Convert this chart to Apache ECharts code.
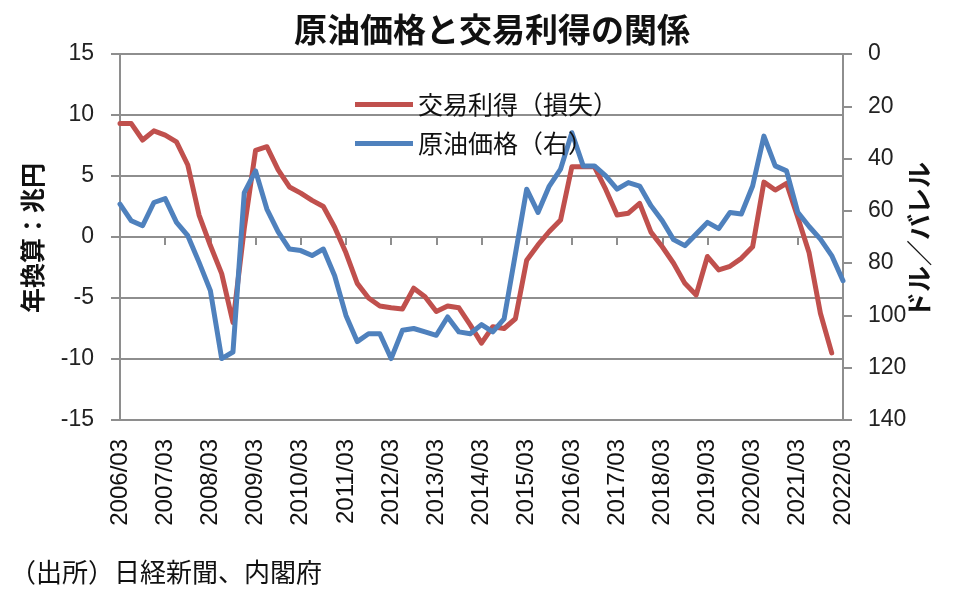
<!DOCTYPE html>
<html><head><meta charset="utf-8">
<script src="https://cdn.jsdelivr.net/npm/echarts@6/dist/echarts.min.js"></script>
<style>html,body{margin:0;padding:0;background:#fff}#c{width:958px;height:598px}</style>
</head><body><div id="c"></div>
<script>
const quarters = [
'2006/03','2006/06','2006/09','2006/12','2007/03','2007/06','2007/09','2007/12',
'2008/03','2008/06','2008/09','2008/12','2009/03','2009/06','2009/09','2009/12',
'2010/03','2010/06','2010/09','2010/12','2011/03','2011/06','2011/09','2011/12',
'2012/03','2012/06','2012/09','2012/12','2013/03','2013/06','2013/09','2013/12',
'2014/03','2014/06','2014/09','2014/12','2015/03','2015/06','2015/09','2015/12',
'2016/03','2016/06','2016/09','2016/12','2017/03','2017/06','2017/09','2017/12',
'2018/03','2018/06','2018/09','2018/12','2019/03','2019/06','2019/09','2019/12',
'2020/03','2020/06','2020/09','2020/12','2021/03','2021/06','2021/09','2021/12',
'2022/03'];
// 交易利得（損失） 年換算・兆円
const tradeGain = [
9.3, 9.3, 7.95, 8.7, 8.35, 7.8, 5.9, 1.8,
-0.7, -3.0, -7.0, 0.7, 7.1, 7.4, 5.5, 4.1,
3.6, 3.0, 2.5, 0.8, -1.3, -3.8, -5.0, -5.65,
-5.8, -5.9, -4.2, -4.9, -6.1, -5.65, -5.8, -7.2,
-8.7, -7.35, -7.5, -6.7, -1.9, -0.65, 0.45, 1.4,
5.75, 5.75, 5.75, 3.9, 1.8, 1.95, 2.76, 0.4,
-0.8, -2.15, -3.8, -4.75, -1.6, -2.7, -2.4, -1.75,
-0.8, 4.5, 3.85, 4.4, 1.6, -1.3, -6.25, -9.5];
// 原油価格（右） ドル／バレル
const oilPrice = [
57.4, 63.8, 65.7, 56.8, 55.3, 64.4, 69.5, 79.7,
90.5, 116.5, 114, 53, 44.7, 59.3, 68, 74.6,
75.2, 77.1, 74.6, 84.8, 100, 110, 107, 107,
116.5, 105.7, 105, 106.3, 107.6, 100.6, 106.3, 107,
103.5, 106.3, 101.3, 76.5, 51.7, 60.6, 50.5, 44,
30.1, 42.8, 42.8, 46.6, 51.7, 49.2, 50.5, 58,
63.8, 71, 73.3, 68.9, 64.4, 66.8, 60.6, 61.2,
50.5, 31.4, 42.8, 44.7, 60.6, 66, 70.8, 77.1,
86.7];
const seriesNames = ['交易利得（損失）', '原油価格（右）'];
const leftTicks = {min: -15, max: 15, interval: 5};
const rightTicks = {min: 0, max: 140, interval: 20};
const titleText = '原油価格と交易利得の関係';
const leftName = '年換算：兆円';
const rightName = 'ドル／バレル';
const sourceText = '（出所）日経新聞、内閣府';

const JP = '"Noto Sans CJK JP","Noto Sans",sans-serif';
const NUM = '"Liberation Sans","Noto Sans",sans-serif';
const GRAY = '#8e8e8e';

const chart = echarts.init(document.getElementById('c'), null, {renderer: 'canvas'});
chart.setOption({
  animation: false,
  backgroundColor: '#fff',
  grid: {left: 120, right: 115, top: 54, height: 366, containLabel: false},
  legend: {
    orient: 'vertical', left: 350, top: 87, itemWidth: 58, itemHeight: 5, itemGap: 14,
    icon: 'rect',
    textStyle: {fontFamily: JP, fontSize: 25, color: '#111'},
    data: seriesNames
  },
  xAxis: [{
    type: 'category', data: quarters, boundaryGap: false,
    axisLine: {onZero: true, onZeroAxisIndex: 0, lineStyle: {color: GRAY, width: 2}},
    axisTick: {show: true, interval: 3, length: 8, lineStyle: {color: GRAY, width: 2}},
    axisLabel: {show: false},
    splitLine: {show: false}
  }, {
    type: 'category', data: quarters, boundaryGap: false, position: 'bottom',
    axisLine: {show: false, onZero: false},
    axisTick: {show: false},
    axisLabel: {show: true, interval: 3, rotate: 90, margin: 19, fontFamily: NUM, fontSize: 24, color: '#111'},
    splitLine: {show: false}
  }],
  yAxis: [{
    type: 'value', position: 'left', min: leftTicks.min, max: leftTicks.max, interval: leftTicks.interval,
    axisLine: {show: true, lineStyle: {color: GRAY, width: 2}},
    axisTick: {show: true, length: 9, lineStyle: {color: GRAY, width: 2}},
    axisLabel: {margin: 26, fontFamily: NUM, fontSize: 23, color: '#222'},
    splitLine: {show: true, lineStyle: {color: GRAY, width: 2}}
  }, {
    type: 'value', position: 'right', inverse: true,
    min: rightTicks.min, max: rightTicks.max, interval: rightTicks.interval,
    axisLine: {show: true, lineStyle: {color: GRAY, width: 2}},
    axisTick: {show: true, length: 9, lineStyle: {color: GRAY, width: 2}},
    axisLabel: {margin: 25, fontFamily: NUM, fontSize: 23, color: '#222'},
    splitLine: {show: false}
  }],
  series: [{
    name: seriesNames[0], type: 'line', data: tradeGain, xAxisIndex: 0, yAxisIndex: 0,
    symbol: 'none', color: '#C0504D',
    lineStyle: {width: 5, color: '#C0504D', cap: 'round', join: 'round'}
  }, {
    name: seriesNames[1], type: 'line', data: oilPrice, xAxisIndex: 0, yAxisIndex: 1,
    symbol: 'none', color: '#4F81BD',
    lineStyle: {width: 5, color: '#4F81BD', cap: 'round', join: 'round'}
  }],
  graphic: [
    {type: 'text', x: 492, y: 29, style: {text: titleText, font: 'bold 33px ' + JP, fill: '#111', align: 'center', verticalAlign: 'middle'}},
    {type: 'text', x: 32, y: 238, rotation: Math.PI / 2, style: {text: leftName, font: 'bold 25px ' + JP, fill: '#111', align: 'center', verticalAlign: 'middle'}},
    {type: 'text', x: 919, y: 240, rotation: Math.PI / 2, style: {text: rightName, font: 'bold 26px ' + JP, fill: '#111', align: 'center', verticalAlign: 'middle'}},
    {type: 'text', x: 10, y: 572, style: {text: sourceText, font: '26px ' + JP, fill: '#111', align: 'left', verticalAlign: 'middle'}}
  ]
});
</script>
</body></html>
